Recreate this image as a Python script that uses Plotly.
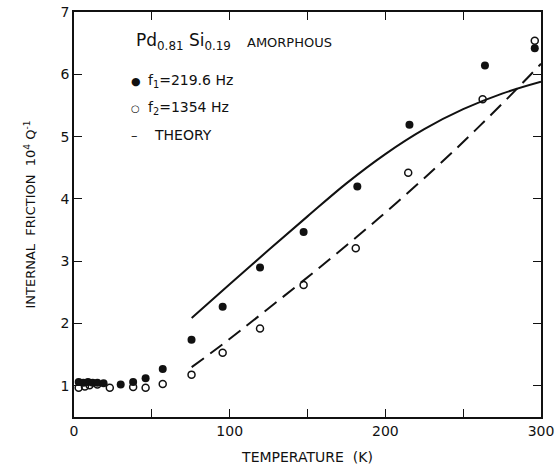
import plotly.graph_objects as go

# Internal friction of amorphous Pd0.81Si0.19 versus temperature
T_f1 = [3, 6, 9, 12, 15, 19, 30, 38, 46, 57, 75.5, 95.5, 119.5, 147.5, 182, 215.5, 264, 296]
q_f1 = [1.06, 1.05, 1.06, 1.05, 1.05, 1.04, 1.02, 1.06, 1.12, 1.27, 1.74, 2.27, 2.90, 3.47, 4.20, 5.19, 6.14, 6.42]

T_f2 = [3, 7, 10, 15, 23, 38, 46, 57, 75.5, 95.5, 119.5, 147.5, 181, 214.7, 262.5, 296]
q_f2 = [0.97, 0.99, 1.01, 1.02, 0.97, 0.98, 0.97, 1.03, 1.18, 1.53, 1.92, 2.62, 3.21, 4.42, 5.60, 6.54]

# theory curves
T_th1 = [75.6, 100, 125, 150, 175, 200, 225, 250, 275, 300]
q_th1 = [2.09, 2.63, 3.18, 3.72, 4.25, 4.72, 5.12, 5.44, 5.69, 5.88]

T_th2 = [75.6, 95.9, 119.5, 158, 196.5, 233, 261, 286, 300]
q_th2 = [1.30, 1.675, 2.135, 2.905, 3.705, 4.515, 5.18, 5.805, 6.17]

x_ticks = [0, 50, 100, 150, 200, 250, 300]
x_ticktext = ["0", "", "100", "", "200", "", "300"]
y_ticks = [1, 2, 3, 4, 5, 6, 7]

FONT = "DejaVu Sans"
INK = "#111111"

fig = go.Figure()

fig.add_trace(go.Scatter(x=T_th1, y=q_th1, mode="lines",
                         line=dict(color=INK, width=2, shape="spline")))
fig.add_trace(go.Scatter(x=T_th2, y=q_th2, mode="lines",
                         line=dict(color=INK, width=2, shape="spline", dash="15px,8px")))
fig.add_trace(go.Scatter(x=T_f1, y=q_f1, mode="markers",
                         marker=dict(symbol="circle", size=8, color=INK)))
fig.add_trace(go.Scatter(x=T_f2, y=q_f2, mode="markers",
                         marker=dict(symbol="circle-open", size=7, color=INK,
                                     line=dict(width=1.5, color=INK))))

W, H = 557, 465
L, R, Tm, B = 74, 16, 12, 48
pw, ph = W - L - R, H - Tm - B


def px(xp):
    return (xp - L) / pw


def py(yp):
    return (H - B - yp) / ph


notes = [
    dict(x=px(134), y=py(41), text="Pd<sub>0.81</sub> Si<sub>0.19</sub>", size=17),
    dict(x=px(245), y=py(42), text="AMORPHOUS", size=13),
    dict(x=px(129), y=py(81), text="●", size=11),
    dict(x=px(146), y=py(81), text="f<sub>1</sub>=219.6 Hz", size=14),
    dict(x=px(129), y=py(108), text="○", size=10),
    dict(x=px(146), y=py(108), text="f<sub>2</sub>=1354 Hz", size=14),
    dict(x=px(129), y=py(135), text="–", size=13),
    dict(x=px(152), y=py(135), text="THEORY", size=14),
]
annotations = [
    dict(x=n["x"], y=n["y"], xref="paper", yref="paper", text=n["text"],
         showarrow=False, xanchor="left", yanchor="middle",
         font=dict(family=FONT, size=n["size"], color=INK))
    for n in notes
]

axis_common = dict(
    showline=True, linecolor=INK, linewidth=1.5, mirror="ticks",
    ticks="inside", ticklen=8, tickwidth=1.3, tickcolor=INK,
    showgrid=False, zeroline=False, automargin=False,
    tickfont=dict(family=FONT, size=14, color=INK),
)

fig.update_layout(
    width=W, height=H,
    margin=dict(l=L, r=R, t=Tm, b=B, autoexpand=False),
    paper_bgcolor="white", plot_bgcolor="white",
    showlegend=False,
    annotations=annotations,
    xaxis=dict(range=[0, 300], tickmode="array", tickvals=x_ticks, ticktext=x_ticktext,
               title=dict(text="TEMPERATURE  (K)", standoff=17,
                          font=dict(family=FONT, size=14, color=INK)),
               **axis_common),
    yaxis=dict(range=[0.5, 7], tickmode="array", tickvals=y_ticks,
               title=dict(text="INTERNAL  FRICTION  10<sup>4</sup> Q<sup>-1</sup>", standoff=22,
                          font=dict(family=FONT, size=13, color=INK)),
               **axis_common),
)

fig.write_html("out.html")
